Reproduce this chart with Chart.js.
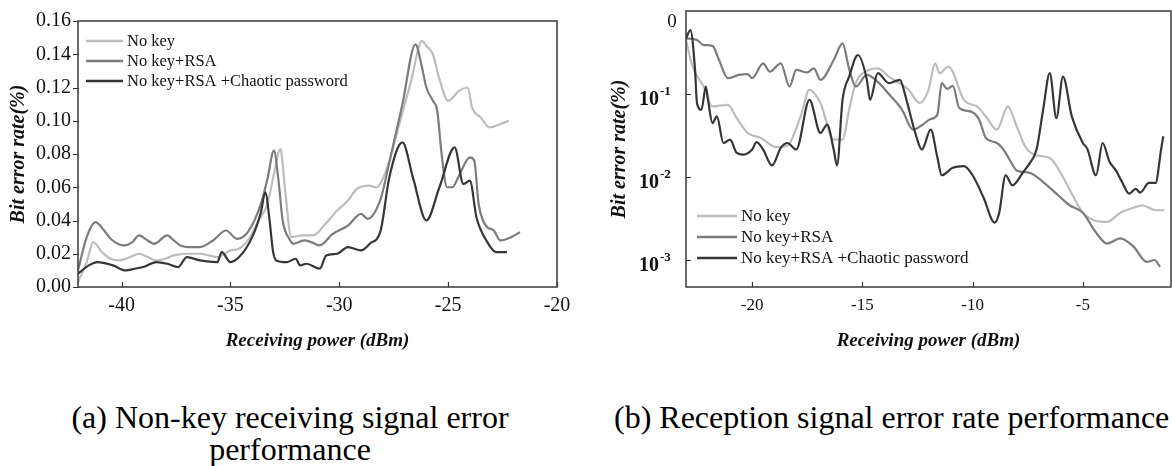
<!DOCTYPE html>
<html><head><meta charset="utf-8">
<script src="https://cdn.jsdelivr.net/npm/chart.js@4.4.1/dist/chart.umd.min.js"></script>
<style>
html,body{margin:0;padding:0;background:#fff;width:1172px;height:466px;overflow:hidden;}
#wa{position:absolute;left:0;top:0;width:580px;height:360px;}
#wb{position:absolute;left:580px;top:0;width:592px;height:360px;}
.cap{position:absolute;font-family:"Liberation Serif","Times New Roman",serif;font-size:32px;color:#000;line-height:32px;white-space:nowrap;}
</style></head><body>
<div id="wa"><canvas id="ca" width="580" height="360"></canvas></div>
<div id="wb"><canvas id="cb" width="592" height="360"></canvas></div>
<div class="cap" style="left:40px;top:401px;width:500px;text-align:center;">(a) Non-key receiving signal error<br>performance</div>
<div class="cap" style="left:614px;top:401px;">(b) Reception signal error rate performance</div>
<script>
// ---------- Data: chart (a) ----------
const seriesNames = ['No key', 'No key+RSA', 'No key+RSA +Chaotic password'];

const powerA_noKey = [-42,-41.6,-41.3,-40.9,-40.5,-40.1,-39.6,-39.2,-38.8,-38.4,-38.0,-37.6,-37.0,-36.4,-36.0,-35.6,-35.0,-34.6,-34.1,-33.7,-33.3,-33.0,-32.7,-32.5,-32.2,-31.7,-31.2,-30.7,-30.1,-29.6,-29.2,-28.6,-28.3,-28.0,-27.7,-27.2,-26.7,-26.2,-26.0,-25.7,-25.4,-25.0,-24.5,-24.1,-23.9,-23.5,-23.1,-22.6,-22.2];
const berA_noKey = [0.003,0.015,0.027,0.021,0.017,0.016,0.018,0.020,0.018,0.016,0.017,0.019,0.020,0.020,0.019,0.018,0.022,0.023,0.030,0.040,0.050,0.068,0.083,0.060,0.030,0.031,0.031,0.037,0.046,0.052,0.059,0.061,0.060,0.065,0.076,0.100,0.124,0.148,0.145,0.140,0.125,0.112,0.118,0.120,0.108,0.102,0.096,0.098,0.100];

const powerA_rsa = [-42,-41.6,-41.2,-40.8,-40.5,-39.9,-39.5,-39.2,-38.8,-38.5,-37.9,-37.6,-37.3,-36.8,-36.4,-35.8,-35.2,-34.7,-34.2,-33.6,-33.3,-33.0,-32.8,-32.6,-32.3,-32.1,-31.6,-31.3,-30.9,-30.3,-29.6,-29.0,-28.7,-28.1,-27.7,-27.1,-26.5,-26.2,-26.0,-25.7,-25.5,-25.3,-25.05,-24.8,-24.5,-24.0,-23.8,-23.6,-23.4,-23.2,-22.9,-22.6,-22.1,-21.7];
const berA_rsa = [0.010,0.030,0.039,0.034,0.029,0.025,0.027,0.031,0.028,0.026,0.031,0.028,0.025,0.024,0.024,0.028,0.034,0.029,0.033,0.050,0.065,0.082,0.065,0.040,0.029,0.026,0.028,0.027,0.025,0.032,0.037,0.044,0.041,0.053,0.075,0.110,0.146,0.132,0.120,0.112,0.106,0.080,0.060,0.060,0.067,0.078,0.076,0.050,0.040,0.036,0.034,0.028,0.030,0.033];

const powerA_chaos = [-42,-41.5,-41.1,-40.4,-39.8,-39.4,-39.0,-38.4,-37.9,-37.4,-37.0,-36.4,-35.6,-35.4,-35.0,-34.6,-34.0,-33.6,-33.4,-33.2,-33.05,-32.9,-32.4,-32.0,-31.8,-31.5,-30.9,-30.6,-30.1,-29.6,-29.0,-28.6,-28.1,-27.7,-27.1,-26.6,-26.0,-25.4,-24.7,-24.3,-24.0,-23.7,-23.2,-22.8,-22.3];
const berA_chaos = [0.008,0.013,0.015,0.013,0.010,0.011,0.012,0.015,0.014,0.012,0.018,0.016,0.015,0.021,0.015,0.018,0.030,0.045,0.057,0.040,0.022,0.016,0.015,0.017,0.013,0.014,0.011,0.019,0.020,0.024,0.022,0.026,0.034,0.066,0.087,0.065,0.040,0.060,0.084,0.062,0.064,0.042,0.027,0.021,0.021];

const xTicksA = [-40,-35,-30,-25,-20];
const yTicksA = [0,0.02,0.04,0.06,0.08,0.10,0.12,0.14,0.16];

// ---------- Data: chart (b) ----------
const powerB_noKey = [-23,-22.7,-22.2,-21.8,-21.1,-20.7,-20.2,-19.6,-18.9,-18.4,-17.8,-17.4,-16.9,-16.3,-15.9,-15.6,-15.3,-14.7,-14.3,-13.8,-12.9,-12.4,-12.0,-11.7,-11.5,-11.1,-10.9,-10.4,-9.8,-9.4,-8.9,-8.4,-8.0,-7.6,-7.1,-6.5,-5.9,-5.5,-5.0,-4.5,-3.9,-3.3,-2.7,-2.3,-1.7,-1.3];
const berB_noKey = [0.447,0.214,0.123,0.0708,0.0741,0.0513,0.0339,0.0295,0.0229,0.024,0.0537,0.112,0.0776,0.0282,0.0282,0.0646,0.135,0.195,0.204,0.162,0.112,0.0776,0.112,0.234,0.178,0.214,0.186,0.0851,0.0708,0.0537,0.0372,0.0708,0.0407,0.0229,0.0182,0.017,0.01,0.0063,0.00372,0.00302,0.00288,0.00372,0.00427,0.00457,0.00398,0.00398];

const powerB_rsa = [-23,-22.5,-22.2,-21.8,-21.5,-21.1,-20.6,-20.2,-20.0,-19.5,-19.2,-18.7,-18.3,-18.0,-17.5,-17.2,-16.9,-16.3,-15.9,-15.6,-15.3,-14.8,-14.3,-13.8,-13.2,-12.7,-12.3,-11.9,-11.6,-11.4,-11.15,-10.9,-10.6,-10.1,-9.7,-9.4,-8.9,-8.6,-8.3,-8.0,-7.4,-6.8,-6.2,-5.6,-5.0,-4.4,-3.9,-3.3,-2.7,-2.1,-1.75,-1.5];
const berB_rsa = [0.468,0.447,0.389,0.380,0.257,0.155,0.170,0.174,0.155,0.234,0.186,0.234,0.123,0.195,0.182,0.204,0.148,0.257,0.407,0.200,0.123,0.170,0.140,0.100,0.0646,0.0372,0.042,0.050,0.0562,0.135,0.115,0.125,0.0676,0.0617,0.049,0.0295,0.0257,0.0214,0.0158,0.012,0.0112,0.0087,0.0063,0.00457,0.00372,0.00214,0.00158,0.00182,0.00145,0.00095,0.001,0.00083];

const powerB_chaos = [-23,-22.8,-22.6,-22.5,-22.3,-22.1,-22.0,-21.8,-21.6,-21.3,-21.0,-20.7,-20.4,-20.0,-19.8,-19.5,-19.1,-18.7,-18.4,-18.0,-17.4,-16.9,-16.6,-16.3,-16.15,-15.9,-15.6,-15.2,-14.8,-14.65,-14.3,-13.8,-13.3,-13.0,-12.6,-12.3,-11.9,-11.6,-11.4,-10.9,-10.4,-10.0,-9.5,-9.0,-8.8,-8.5,-8.2,-7.7,-7.4,-7.1,-6.8,-6.5,-6.2,-5.9,-5.5,-5.0,-4.8,-4.4,-4.1,-3.8,-3.5,-3.2,-2.9,-2.6,-2.4,-2.0,-1.7,-1.45,-1.35];
const berB_chaos = [0.468,0.589,0.214,0.0776,0.0646,0.123,0.085,0.0447,0.0537,0.0257,0.0282,0.0195,0.0186,0.0214,0.0263,0.0214,0.0138,0.0224,0.0257,0.0214,0.085,0.0339,0.0427,0.0214,0.0138,0.085,0.162,0.295,0.15,0.085,0.178,0.135,0.148,0.085,0.0339,0.0214,0.0372,0.0174,0.0105,0.0129,0.0135,0.0105,0.00562,0.00282,0.00363,0.0105,0.00794,0.0115,0.0148,0.0214,0.0646,0.178,0.0513,0.162,0.0537,0.0257,0.022,0.0105,0.0257,0.0155,0.012,0.0085,0.0063,0.0072,0.0065,0.0085,0.0085,0.0214,0.031];

const xTicksB = [-20,-15,-10,-5];
const yTicksB = [1, 0.1, 0.01, 0.001];
const yTickBaseB = ['0', '10', '10', '10'];
const yTickExpB = ['', '-1', '-2', '-3'];

// ---------- Styling ----------
const colors = ['#bdbdbd', '#7c7c7c', '#363636'];
const SERIF = '"Liberation Serif", "Times New Roman", serif';

function pts(xs, ys) { return xs.map((x, i) => ({x, y: ys[i]})); }
function makeDatasets(list) {
  return list.map((d, i) => ({
    label: seriesNames[i], data: pts(d[0], d[1]),
    borderColor: colors[i], borderWidth: 2.2, pointRadius: 0,
    cubicInterpolationMode: 'monotone', fill: false, order: 3 - i
  }));
}

const decor = {
  id: 'decor',
  afterDatasetsDraw(chart, args, o) {
    const {ctx, chartArea: a, scales: {x, y}} = chart;
    ctx.save();
    ctx.strokeStyle = '#333';
    ctx.lineWidth = 1.2;
    ctx.beginPath();
    o.xTicks.forEach(v => { const p = Math.round(x.getPixelForValue(v)) + 0.5; ctx.moveTo(p, a.bottom); ctx.lineTo(p, a.bottom - 5); });
    o.yTickMarks.forEach(v => { const p = Math.round(y.getPixelForValue(v)) + 0.5; ctx.moveTo(a.left + o.yTickFrom, p); ctx.lineTo(a.left + o.yTickTo, p); });
    ctx.stroke();
    ctx.lineWidth = 1.5;
    ctx.strokeStyle = '#3a3a3a';
    ctx.strokeRect(a.left, a.top, a.right - a.left, a.bottom - a.top);
    // legend
    const L = o.legend;
    chart.data.datasets.forEach((ds, i) => {
      const yy = L.y + i * L.dy;
      ctx.strokeStyle = ds.borderColor; ctx.lineWidth = L.lw;
      ctx.beginPath(); ctx.moveTo(L.x, yy); ctx.lineTo(L.x + L.len, yy); ctx.stroke();
      ctx.fillStyle = '#111'; ctx.font = L.font; ctx.textBaseline = 'middle'; ctx.textAlign = 'left';
      ctx.fillText(ds.label, L.x + L.len + L.gap, yy + 1);
    });
    // custom log labels (with exponent)
    if (o.logLabels) {
      const G = o.logLabels;
      ctx.fillStyle = '#111';
      G.values.forEach((v, i) => {
        const p = y.getPixelForValue(v);
        if (G.exp[i] === '') {
          ctx.font = '19px ' + SERIF; ctx.textAlign = 'center'; ctx.textBaseline = 'middle';
          ctx.fillText(G.base[i], a.left - 14, p + 11);
        } else {
          ctx.font = 'bold 20px ' + SERIF; ctx.textAlign = 'right'; ctx.textBaseline = 'middle';
          ctx.fillText(G.base[i], a.left - 27, p + 6);
          ctx.font = 'bold 13px ' + SERIF; ctx.textAlign = 'left';
          ctx.fillText(G.exp[i], a.left - 26, p - 2);
        }
      });
    }
    ctx.restore();
  }
};

// ---------- Chart (a) ----------
new Chart(document.getElementById('ca'), {
  type: 'line',
  data: { datasets: makeDatasets([[powerA_noKey, berA_noKey], [powerA_rsa, berA_rsa], [powerA_chaos, berA_chaos]]) },
  options: {
    responsive: false, animation: false, events: [],
    layout: { padding: { left: 0, top: 21, right: 23, bottom: 0 } },
    plugins: {
      legend: { display: false }, tooltip: { enabled: false },
      decor: { xTicks: xTicksA, yTickMarks: yTicksA, yTickFrom: -5, yTickTo: 1,
        legend: { x: 86, y: 41, dy: 20, len: 37, gap: 4, lw: 2.6, font: '16.5px ' + SERIF } }
    },
    scales: {
      x: {
        type: 'linear', min: -42, max: -20,
        afterBuildTicks: s => { s.ticks = xTicksA.map(v => ({value: v})); },
        afterFit: s => { s.height = 73; },
        grid: { display: false, drawTicks: false }, border: { display: false },
        ticks: { color: '#111', font: { family: SERIF, size: 20 }, padding: 7, maxRotation: 0, autoSkip: false },
        title: { display: true, text: 'Receiving power (dBm)', color: '#111',
          font: { family: SERIF, size: 19, weight: 'bold', style: 'italic' }, padding: { top: 0, bottom: 8 } }
      },
      y: {
        type: 'linear', min: 0, max: 0.16,
        afterBuildTicks: s => { s.ticks = yTicksA.map(v => ({value: v})); },
        afterFit: s => { s.width = 78; },
        grid: { display: false, drawTicks: false }, border: { display: false },
        ticks: { color: '#111', font: { family: SERIF, size: 20 }, padding: 7, callback: v => v.toFixed(2) },
        title: { display: true, text: 'Bit error rate(%)', color: '#111',
          font: { family: SERIF, size: 20, weight: 'bold', style: 'italic' }, padding: { top: 7, bottom: 0 } }
      }
    }
  },
  plugins: [decor]
});

// ---------- Chart (b) ----------
new Chart(document.getElementById('cb'), {
  type: 'line',
  data: { datasets: makeDatasets([[powerB_noKey, berB_noKey], [powerB_rsa, berB_rsa], [powerB_chaos, berB_chaos]]) },
  options: {
    responsive: false, animation: false, events: [],
    layout: { padding: { left: 0, top: 11, right: 1, bottom: 0 } },
    plugins: {
      legend: { display: false }, tooltip: { enabled: false },
      decor: { xTicks: xTicksB, yTickMarks: yTicksB.slice(1), yTickFrom: 0, yTickTo: 5,
        legend: { x: 117, y: 216, dy: 21, len: 40, gap: 4, lw: 2.6, font: '17px ' + SERIF },
        logLabels: { values: yTicksB, base: yTickBaseB, exp: yTickExpB } }
    },
    scales: {
      x: {
        type: 'linear', min: -23, max: -1,
        afterBuildTicks: s => { s.ticks = xTicksB.map(v => ({value: v})); },
        afterFit: s => { s.height = 73; },
        grid: { display: false, drawTicks: false }, border: { display: false },
        ticks: { color: '#111', font: { family: SERIF, size: 17 }, padding: 8, maxRotation: 0, autoSkip: false },
        title: { display: true, text: 'Receiving power (dBm)', color: '#111',
          font: { family: SERIF, size: 19, weight: 'bold', style: 'italic' }, padding: { top: 0, bottom: 8 } }
      },
      y: {
        type: 'logarithmic', min: Math.pow(10, -3.325), max: 1,
        afterFit: s => { s.width = 106; },
        grid: { display: false, drawTicks: false }, border: { display: false },
        ticks: { display: false },
        title: { display: true, text: 'Bit error rate(%)', color: '#111',
          font: { family: SERIF, size: 20, weight: 'bold', style: 'italic' }, padding: { top: 28, bottom: 0 } }
      }
    }
  },
  plugins: [decor]
});
</script>
</body></html>
